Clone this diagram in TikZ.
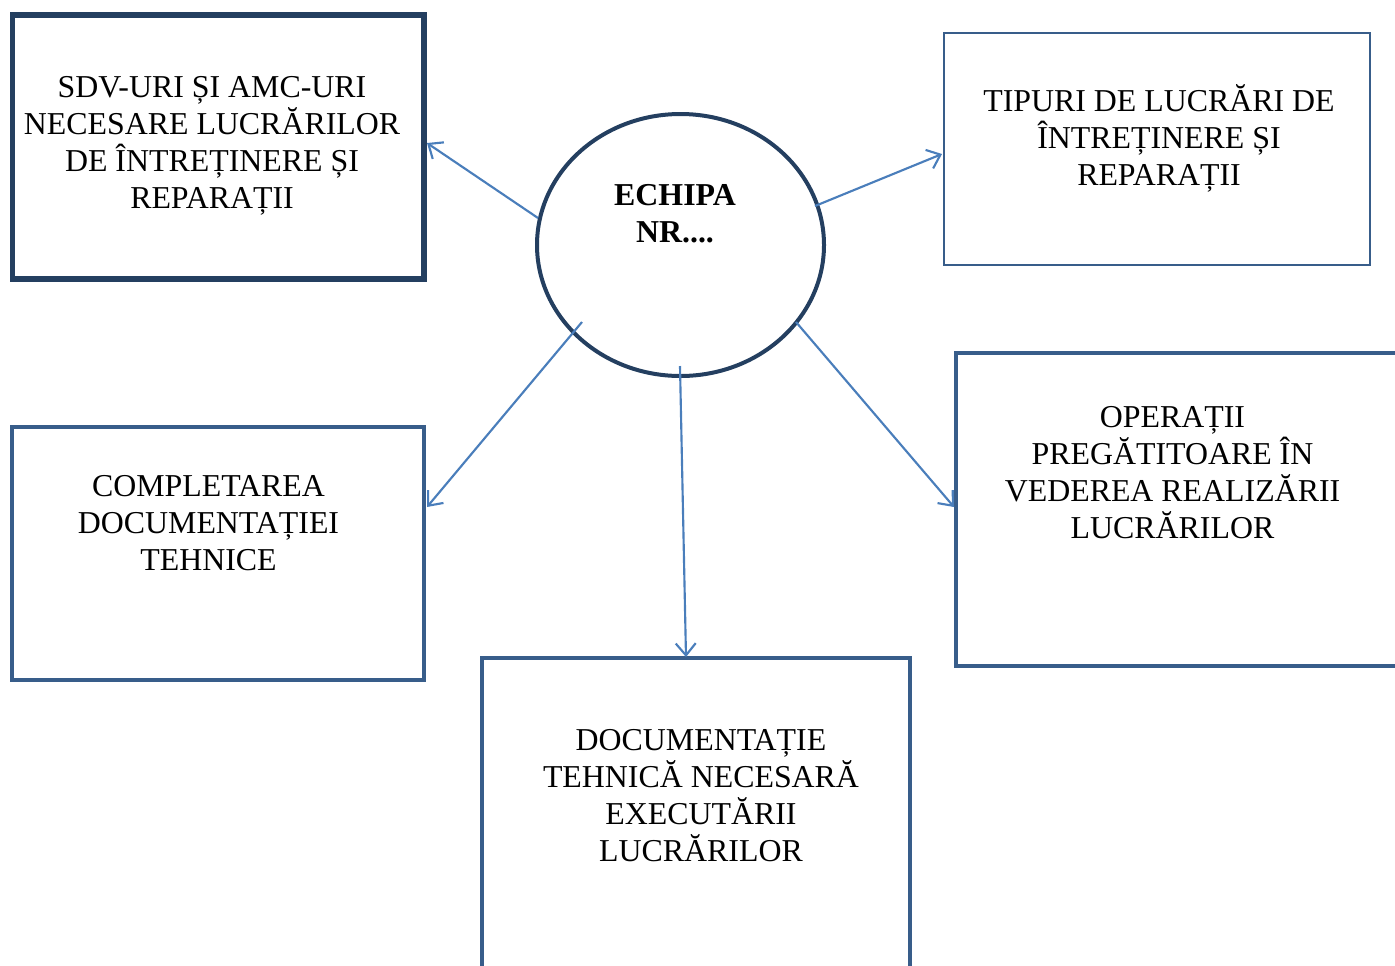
\documentclass[tikz,border=0pt]{standalone}
\usepackage{fontspec}
\setmainfont{Liberation Serif}
\usetikzlibrary{arrows.meta,shapes.geometric}
\definecolor{navy}{HTML}{243F60}
\definecolor{boxblue}{HTML}{385D8A}
\definecolor{arrowblue}{HTML}{4A7EBB}
\newcommand\labelfont{\fontsize{23.9pt}{27.75pt}\selectfont\lineskiplimit=-100pt\relax}
\begin{document}
\begin{tikzpicture}[x=0.75pt,y=-0.75pt,
  boxbase/.style={rectangle,inner sep=0pt},
  thickbox/.style={boxbase,draw=boxblue,line width=3.6pt},
  navybox/.style={boxbase,draw=navy,line width=3.8pt},
  thinbox/.style={boxbase,draw=boxblue,line width=1.5pt},
  label/.style={inner sep=0pt,align=center,font=\labelfont},
  conn/.style={draw=arrowblue,line width=1.6pt,-{Straight Barb[length=9pt,width=15pt,line width=1.6pt]}}
]
\useasboundingbox (0,0) rectangle (1395,965);
% boxes
\node[navybox,minimum width={411.5*0.75pt},minimum height={264*0.75pt}] (sdv) at (218.25,147) {};
\node[thinbox,minimum width={426*0.75pt},minimum height={232*0.75pt}] (tip) at (1157,149) {};
\node[thickbox,minimum width={464*0.75pt},minimum height={313*0.75pt}] (ope) at (1188,509.5) {};
\node[thickbox,minimum width={428*0.75pt},minimum height={332*0.75pt}] (doc) at (696,824) {};
\node[thickbox,minimum width={412*0.75pt},minimum height={253*0.75pt}] (com) at (218,553.5) {};
\node[ellipse,draw=navy,line width=3pt,inner sep=0pt,minimum width={287*0.75pt},minimum height={262*0.75pt}] (ech) at (680.5,245) {};
% texts
\node[label] (tsdv) at (212,145.2) {\strut SDV-URI ȘI AMC-URI\\NECESARE LUCRĂRILOR\\DE ÎNTREȚINERE ȘI\\REPARAȚII\strut};
\node[label] (ttip) at (1159,140.2) {\strut TIPURI DE LUCRĂRI DE\\ÎNTREȚINERE ȘI\\REPARAȚII\strut};
\node[label,font=\labelfont\bfseries] (tech) at (675,216.2) {\strut ECHIPA\\NR....\strut};
\node[label] (tope) at (1172.5,475.8) {\strut OPERAȚII\\PREGĂTITOARE ÎN\\VEDEREA REALIZĂRII\\LUCRĂRILOR\strut};
\node[label] (tdoc) at (701,798.2) {\strut DOCUMENTAȚIE\\TEHNICĂ NECESARĂ\\EXECUTĂRII\\LUCRĂRILOR\strut};
\node[label] (tcom) at (208.5,525.9) {\strut COMPLETAREA\\DOCUMENTAȚIEI\\TEHNICE\strut};
% connector end points
\coordinate (s1) at (538,218);
\coordinate (e1) at (427,143);
\coordinate (s2) at (815,206);
\coordinate (e2) at (942,154);
\coordinate (s3) at (582,322);
\coordinate (e3) at (427,507);
\coordinate (s4) at (680,366);
\coordinate (e4) at (686,657);
\coordinate (s5) at (796,322);
\coordinate (e5) at (954,507);
\draw[conn] (s1) -- (e1);
\draw[conn] (s2) -- (e2);
\draw[conn] (s3) -- (e3);
\draw[conn] (s4) -- (e4);
\draw[conn] (s5) -- (e5);
\end{tikzpicture}
\end{document}
